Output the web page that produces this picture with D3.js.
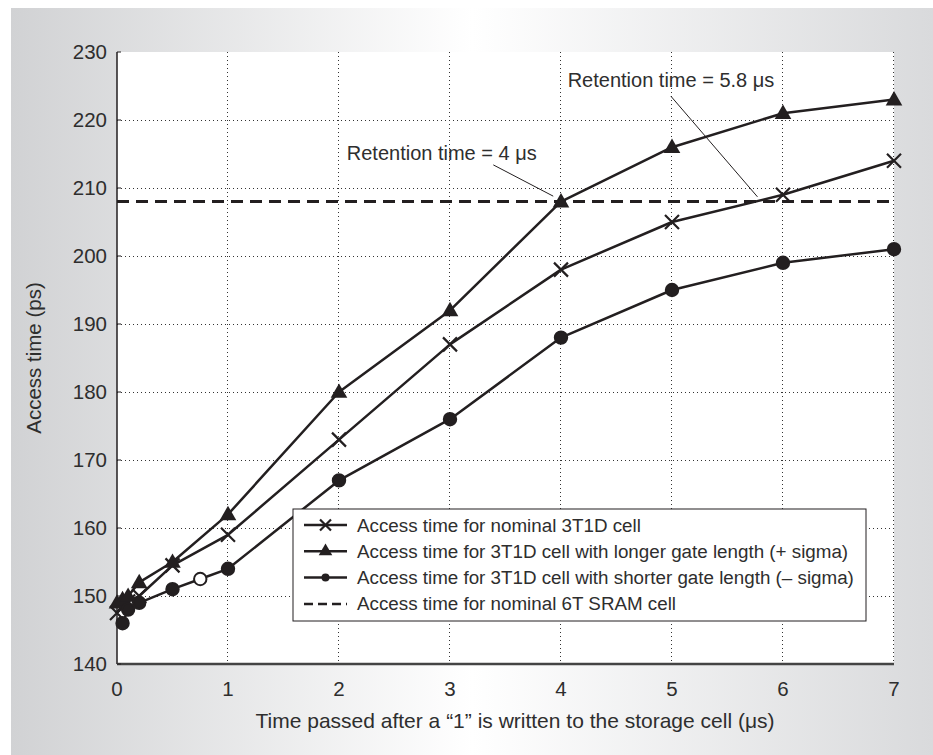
<!DOCTYPE html>
<html>
<head>
<meta charset="utf-8">
<script src="https://cdn.jsdelivr.net/npm/d3@7"></script>
<style>
  html, body { margin: 0; padding: 0; background: #fff; }
  svg { display: block; font-family: "Liberation Sans", Arial, sans-serif; }
</style>
</head>
<body>
<div id="chart"></div>
<script>
// Access time of 3T1D cells vs. time after writing a "1"
const xTicks = [0, 1, 2, 3, 4, 5, 6, 7];
const yTicks = [140, 150, 160, 170, 180, 190, 200, 210, 220, 230];

const timeNominal = [0, 0.05, 0.1, 0.2, 0.5, 1, 2, 3, 4, 5, 6, 7];
const accessNominal = [147.5, 148.5, 149.2, 150, 154.5, 159, 173, 187, 198, 205, 209, 214];

const timeLonger = [0, 0.05, 0.1, 0.2, 0.5, 1, 2, 3, 4, 5, 6, 7];
const accessLonger = [149, 149.5, 150, 152, 155, 162, 180, 192, 208, 216, 221, 223];

const timeShorter = [0.05, 0.1, 0.2, 0.5, 0.75, 1, 2, 3, 4, 5, 6, 7];
const accessShorter = [146, 148, 149, 151, 152.5, 154, 167, 176, 188, 195, 199, 201];
const hollowShorter = [0.75]; // drawn as an open circle in the original

const sramAccess = 208;

const legendLabels = [
  "Access time for nominal 3T1D cell",
  "Access time for 3T1D cell with longer gate length (+ sigma)",
  "Access time for 3T1D cell with shorter gate length (\u2013 sigma)",
  "Access time for nominal 6T SRAM cell",
];

// annotation text anchor and pointer line, in data units
const annotations = [
  { label: "Retention time = 4 \u03bcs", tx: 2.07, ty: 215.1, x1: 3.39, y1: 213.4, x2: 3.93, y2: 208.8 },
  { label: "Retention time = 5.8 \u03bcs", tx: 4.06, ty: 225.9, x1: 4.99, y1: 223.5, x2: 5.77, y2: 208.7 },
];

const W = 933, H = 755;
const plot = { left: 117, right: 894, top: 52, bottom: 664 };
const ink = "#231f20";
const textInk = "#2e2e2e";

const svg = d3.select("#chart").append("svg").attr("width", W).attr("height", H);

// grey panel with horizontal light-to-white-to-light gradient
const grad = svg.append("defs").append("linearGradient").attr("id", "panel")
  .attr("x1", "0%").attr("x2", "100%").attr("y1", "0%").attr("y2", "0%");
grad.append("stop").attr("offset", "0%").attr("stop-color", "#d1d2d4");
grad.append("stop").attr("offset", "50%").attr("stop-color", "#ffffff");
grad.append("stop").attr("offset", "100%").attr("stop-color", "#d9dadc");
svg.append("rect").attr("x", 11).attr("y", 8).attr("width", W - 11).attr("height", H - 8)
  .attr("fill", "url(#panel)");

const x = d3.scaleLinear().domain([0, 7]).range([plot.left, plot.right]);
const y = d3.scaleLinear().domain([140, 230]).range([plot.bottom, plot.top]);

svg.append("rect")
  .attr("x", plot.left).attr("y", plot.top)
  .attr("width", plot.right - plot.left).attr("height", plot.bottom - plot.top)
  .attr("fill", "#fff");

// dotted grid
const grid = svg.append("g").attr("stroke", "#333").attr("stroke-width", 1)
  .attr("stroke-dasharray", "1,3");
yTicks.filter((t) => t > 140 && t < 230).forEach((t) => {
  grid.append("line").attr("x1", plot.left).attr("x2", plot.right)
    .attr("y1", Math.round(y(t)) + 0.5).attr("y2", Math.round(y(t)) + 0.5);
});
xTicks.filter((t) => t > 0).forEach((t) => {
  grid.append("line").attr("y1", plot.top).attr("y2", plot.bottom)
    .attr("x1", Math.round(x(t)) - 0.5).attr("x2", Math.round(x(t)) - 0.5);
});

// axes
svg.append("line").attr("x1", plot.left).attr("x2", plot.left)
  .attr("y1", plot.top).attr("y2", plot.bottom).attr("stroke", ink).attr("stroke-width", 1.5);
svg.append("line").attr("x1", plot.left).attr("x2", plot.right)
  .attr("y1", plot.bottom).attr("y2", plot.bottom).attr("stroke", "#444").attr("stroke-width", 2.5);

yTicks.forEach((t) => {
  svg.append("line").attr("x1", plot.left).attr("x2", plot.left + 4)
    .attr("y1", y(t)).attr("y2", y(t)).attr("stroke", ink).attr("stroke-width", 1);
  svg.append("text").attr("x", plot.left - 10).attr("y", y(t)).attr("dy", "0.35em")
    .attr("text-anchor", "end").attr("font-size", 20.5).attr("fill", textInk).text(t);
});
xTicks.forEach((t) => {
  svg.append("text").attr("x", x(t)).attr("y", plot.bottom + 25).attr("dy", "0.35em")
    .attr("text-anchor", "middle").attr("font-size", 20.5).attr("fill", textInk).text(t);
});

svg.append("text").attr("x", 515).attr("y", 721).attr("dy", "0.35em")
  .attr("text-anchor", "middle").attr("font-size", 21).attr("fill", textInk)
  .text("Time passed after a \u201c1\u201d is written to the storage cell (\u03bcs)");
svg.append("text")
  .attr("transform", `translate(34, ${(plot.top + plot.bottom) / 2}) rotate(-90)`)
  .attr("dy", "0.35em").attr("text-anchor", "middle").attr("font-size", 20.5).attr("fill", textInk)
  .text("Access time (ps)");

// SRAM reference (dashed)
svg.append("line").attr("x1", plot.left).attr("x2", plot.right)
  .attr("y1", y(sramAccess)).attr("y2", y(sramAccess))
  .attr("stroke", ink).attr("stroke-width", 3).attr("stroke-dasharray", "12,7");

const line = d3.line().x((d) => x(d[0])).y((d) => y(d[1]));

function drawMarker(g, kind, cx, cy, hollow) {
  if (kind === "x") {
    const s = 7;
    g.append("path").attr("d", `M${cx - s},${cy - s}L${cx + s},${cy + s}M${cx - s},${cy + s}L${cx + s},${cy - s}`)
      .attr("stroke", ink).attr("stroke-width", 2.2).attr("fill", "none");
  } else if (kind === "tri") {
    g.append("path").attr("d", d3.symbol(d3.symbolTriangle, 120)())
      .attr("transform", `translate(${cx},${cy + 1})`).attr("fill", ink);
  } else {
    g.append("circle").attr("cx", cx).attr("cy", cy).attr("r", 6.2)
      .attr("fill", hollow ? "#fff" : ink).attr("stroke", ink).attr("stroke-width", 2);
  }
}

const series = [
  { t: timeNominal, v: accessNominal, kind: "x" },
  { t: timeLonger, v: accessLonger, kind: "tri" },
  { t: timeShorter, v: accessShorter, kind: "dot" },
];

const marks = svg.append("g");
series.forEach((s) => {
  const pts = s.t.map((t, i) => [t, s.v[i]]);
  marks.append("path").attr("d", line(pts)).attr("fill", "none")
    .attr("stroke", ink).attr("stroke-width", 2.5).attr("stroke-linejoin", "round");
});
series.forEach((s) => {
  s.t.forEach((t, i) => {
    const hollow = s.kind === "dot" && hollowShorter.includes(t);
    drawMarker(marks, s.kind, x(t), y(s.v[i]), hollow);
  });
});

// annotations
annotations.forEach((a) => {
  svg.append("text").attr("x", x(a.tx)).attr("y", y(a.ty)).attr("dy", "0.35em")
    .attr("font-size", 20).attr("fill", textInk).text(a.label);
  svg.append("line").attr("x1", x(a.x1)).attr("y1", y(a.y1)).attr("x2", x(a.x2)).attr("y2", y(a.y2))
    .attr("stroke", ink).attr("stroke-width", 1);
});

// legend
const lg = svg.append("g").attr("transform", "translate(293, 509)");
lg.append("rect").attr("width", 573).attr("height", 112)
  .attr("fill", "#fff").attr("stroke", ink).attr("stroke-width", 1);
const legendKinds = ["x", "tri", "dot", "dash"];
legendLabels.forEach((label, i) => {
  const ly = 16 + i * 26.3;
  lg.append("line").attr("x1", 11).attr("x2", 54).attr("y1", ly).attr("y2", ly)
    .attr("stroke", ink).attr("stroke-width", 2.5)
    .attr("stroke-dasharray", legendKinds[i] === "dash" ? "9,5" : null);
  const k = legendKinds[i];
  if (k === "x") {
    const s = 5.5;
    lg.append("path").attr("d", `M${32.5 - s},${ly - s}L${32.5 + s},${ly + s}M${32.5 - s},${ly + s}L${32.5 + s},${ly - s}`)
      .attr("stroke", ink).attr("stroke-width", 2.2);
  } else if (k === "tri") {
    lg.append("path").attr("d", d3.symbol(d3.symbolTriangle, 80)())
      .attr("transform", `translate(32.5,${ly})`).attr("fill", ink);
  } else if (k === "dot") {
    lg.append("circle").attr("cx", 32.5).attr("cy", ly).attr("r", 4).attr("fill", ink);
  }
  lg.append("text").attr("x", 64).attr("y", ly).attr("dy", "0.35em")
    .attr("font-size", 18.8).attr("fill", textInk).text(label);
});
</script>
</body>
</html>
